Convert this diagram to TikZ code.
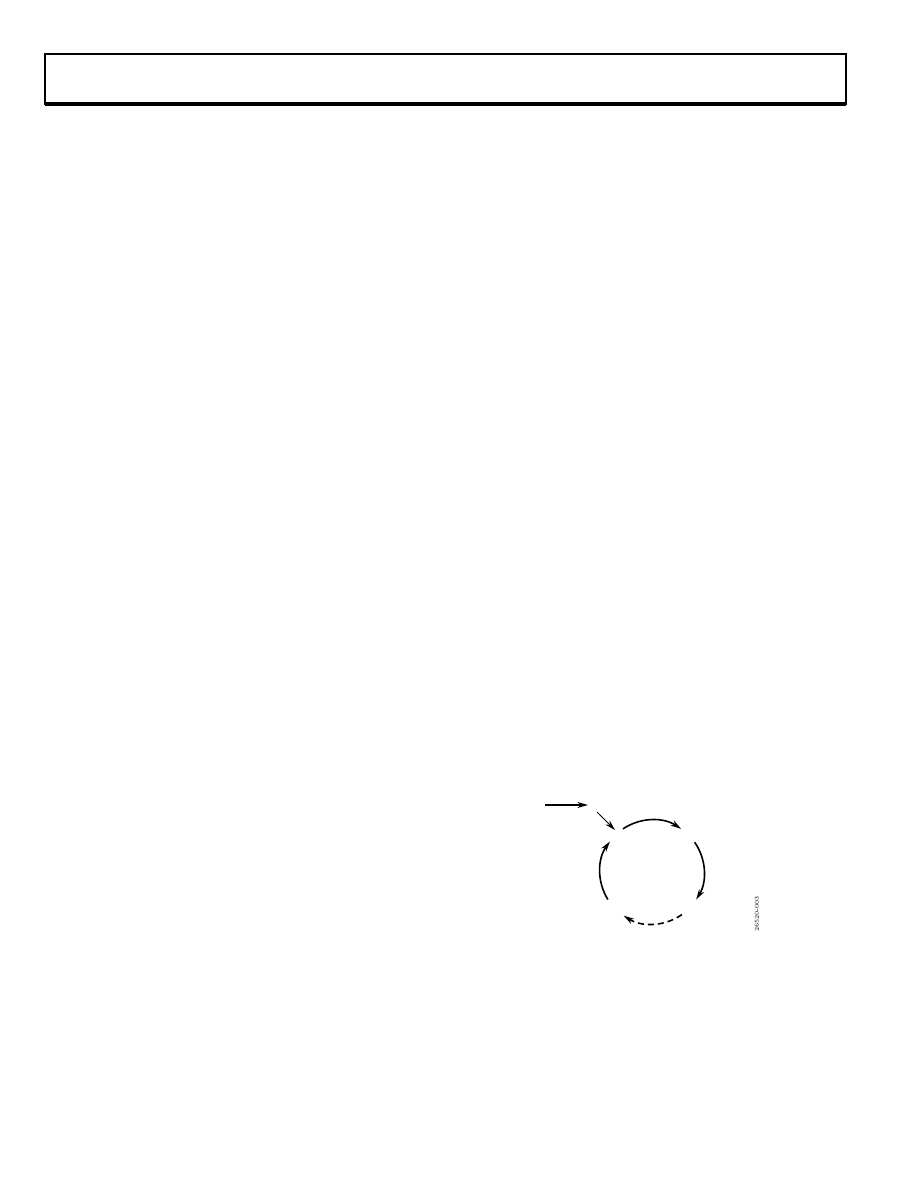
\documentclass[tikz,border=0pt]{standalone}
\usetikzlibrary{arrows.meta}

\begin{document}
\begin{tikzpicture}[x=0.75pt,y=0.75pt,yscale=-1,xscale=1]
\tikzset{
  flow/.style={line width=1.2pt,-{Stealth[length=8pt,width=4.5pt]}},
  feed/.style={line width=0.9pt,-{Stealth[length=8pt,width=4.5pt]}}
}
%set diagram page size
\useasboundingbox (0,0) rectangle (918,1188);

%Header box
\draw [line width=0.9pt] (45,54) rectangle (846,104) ;
\draw [line width=2.4pt] (45,104) -- (846,104) ;

%Circle centre and arc ends
\coordinate (ctr) at (652,872);
\coordinate (topA) at ([shift={(-124:52)}]ctr);
\coordinate (rgtA) at ([shift={(-35:52)}]ctr);
\coordinate (botA) at ([shift={(55:52)}]ctr);
\coordinate (lftA) at ([shift={(148:52)}]ctr);

%Input arrows
\coordinate (inA) at (545,805);
\coordinate (inB) at (588,805);
\coordinate (inC) at (597,812);
\coordinate (inD) at (615,830);
\draw [feed] (inA) -- (inB) ;
\draw [feed,line width=0.6pt] (inC) -- (inD) ;

%Arc segments
\draw [flow] (topA) arc [start angle=-124,end angle=-56,radius=52] ;
\draw [flow] (rgtA) arc [start angle=-35,end angle=32,radius=52] ;
\draw [flow,dash pattern={on 4.5pt off 3pt}] (botA) arc [start angle=55,end angle=123,radius=52] ;
\draw [flow] (lftA) arc [start angle=148,end angle=216,radius=52] ;

% Text Node
\node (figid) [rotate=90,inner sep=0pt,font=\fontsize{4.5}{5}\selectfont] at (757,914) {26520-003};
\end{tikzpicture}
\end{document}
